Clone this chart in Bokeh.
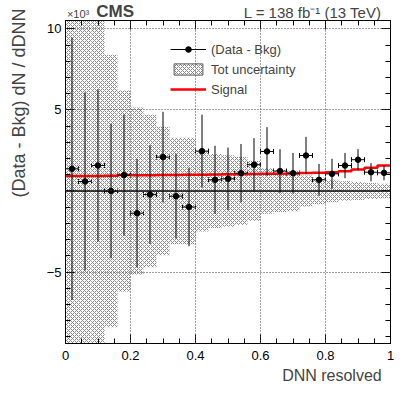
import math
from bokeh.plotting import figure
from bokeh.layouts import column, row
from bokeh.models import (Range1d, LinearAxis, SingleIntervalTicker, CustomJSTickFormatter,
                          ColumnDataSource, Whisker, TeeHead, Label, Legend, LegendItem, Span,
                          CustomLabelingPolicy)
from bokeh.embed import file_html
from bokeh.resources import INLINE

# ---------------- data ----------------
bin_lo = [0.00, 0.04, 0.08, 0.12, 0.16, 0.20, 0.24, 0.28, 0.32, 0.36, 0.40, 0.44, 0.48,
          0.52, 0.56, 0.60, 0.64, 0.68, 0.72, 0.76, 0.80, 0.84, 0.88, 0.92, 0.96]
bin_hi = [0.04, 0.08, 0.12, 0.16, 0.20, 0.24, 0.28, 0.32, 0.36, 0.40, 0.44, 0.48, 0.52,
          0.56, 0.60, 0.64, 0.68, 0.72, 0.76, 0.80, 0.84, 0.88, 0.92, 0.96, 1.00]
bin_center = [0.02, 0.06, 0.10, 0.14, 0.18, 0.22, 0.26, 0.30, 0.34, 0.38, 0.42, 0.46, 0.50,
              0.54, 0.58, 0.62, 0.66, 0.70, 0.74, 0.78, 0.82, 0.86, 0.90, 0.94, 0.98]
# (Data - Bkg) in units of 10^3
data_val = [1.37, 0.59, 1.57, 0.00, 0.98, -1.37, -0.22, 2.09, -0.32, -0.99, 2.46, 0.69, 0.75,
            1.10, 1.62, 2.44, 1.23, 1.10, 2.19, 0.69, 1.06, 1.57, 1.93, 1.16, 1.12]
data_err = [8.10, 5.50, 4.70, 4.15, 3.74, 3.35, 3.05, 2.80, 2.62, 2.42, 2.25, 2.10, 1.93,
            1.80, 1.64, 1.50, 1.35, 1.25, 1.15, 0.98, 0.93, 0.78, 0.65, 0.56, 0.46]
# total uncertainty band (half width)
tot_unc = [11.5, 11.5, 11.5, 8.40, 6.20, 5.15, 4.70, 3.97, 3.28, 3.28, 2.50, 2.28, 2.20,
           2.10, 1.85, 1.40, 1.30, 1.25, 0.95, 0.82, 0.70, 0.60, 0.55, 0.50, 0.45]
# signal
signal = [0.93, 0.93, 0.93, 0.94, 0.98, 0.97, 0.97, 0.98, 0.99, 1.00, 1.00, 1.02, 1.03,
          1.04, 1.05, 1.06, 1.07, 1.08, 1.11, 1.12, 1.16, 1.22, 1.33, 1.43, 1.57]

FONT = "Liberation Sans"
TOTAL_H = 392
LEFT_W = 30
COL_W = 370            # page x 30 .. 400
HEAD_H = 20            # page y 0 .. 20
MAIN_H = 345           # page y 20 .. 365
FOOT_H = TOTAL_H - HEAD_H - MAIN_H

src = ColumnDataSource(dict(
    lo=bin_lo, hi=bin_hi, x=bin_center, v=data_val,
    vlo=[a - b for a, b in zip(data_val, data_err)],
    vhi=[a + b for a, b in zip(data_val, data_err)],
    ulo=[-u for u in tot_unc], uhi=tot_unc,
))


def strip(w, h, x0, y0):
    """Blank text strip whose data coordinates equal page pixels."""
    s = figure(width=w, height=h, x_range=Range1d(x0, x0 + w), y_range=Range1d(y0 + h, y0),
               output_backend="svg", toolbar_location=None, x_axis_type=None,
               y_axis_type=None, title=None,
               min_border_left=0, min_border_right=0, min_border_top=0, min_border_bottom=0)
    s.outline_line_color = None
    s.background_fill_color = "white"
    s.border_fill_color = "white"
    s.grid.visible = False
    return s


# header strip: CMS / lumi / exponent (anchors at the text's vertical centre)
head = strip(COL_W, HEAD_H, LEFT_W, 0)
head.add_layout(Label(x=65, y=11, text="CMS", text_font=FONT, text_font_style="bold",
                      text_font_size="17px", text_align="left", text_baseline="alphabetic"))
head.add_layout(Label(x=390, y=12, text="L = 138 fb\u207b\u00b9 (13 TeV)", text_font=FONT,
                      text_font_size="15px", text_align="right", text_baseline="alphabetic"))
head.add_layout(Label(x=57, y=13, text="\u00d710\u00b3", text_font=FONT,
                      text_font_size="11px", text_align="right", text_baseline="alphabetic"))

# footer strip: x title
foot = strip(COL_W, FOOT_H, LEFT_W, HEAD_H + MAIN_H)
foot.add_layout(Label(x=390, y=374.5, text="DNN resolved", text_font=FONT,
                      text_font_size="16px", text_align="right", text_baseline="alphabetic"))

# left strip: y title
left = strip(LEFT_W, TOTAL_H, 0, 0)
left.add_layout(Label(x=18.5, y=8, text="(Data - Bkg) dN / dDNN", angle=math.pi / 2,
                      text_font=FONT, text_font_size="18px", text_align="right",
                      text_baseline="alphabetic"))

# ---------------- main plot ----------------
p = figure(width=COL_W, height=MAIN_H, x_range=Range1d(0, 1), y_range=Range1d(-9.41, 10.52),
           output_backend="svg", toolbar_location=None, title=None,
           min_border_left=65 - LEFT_W, min_border_right=LEFT_W + COL_W - 390,
           min_border_top=0, min_border_bottom=MAIN_H - 323)
p.background_fill_color = "white"
p.border_fill_color = "white"
p.outline_line_color = "black"
p.outline_line_width = 1

bottom_ax = p.below[0]
left_ax = p.left[0]
xt = SingleIntervalTicker(interval=0.2, num_minor_ticks=4)
yt = SingleIntervalTicker(interval=5, num_minor_ticks=5)
bottom_ax.ticker = xt
left_ax.ticker = yt
p.xgrid[0].ticker = xt
p.ygrid[0].ticker = yt
for g in (p.xgrid[0], p.ygrid[0]):
    g.grid_line_color = "#444444"
    g.grid_line_dash = "1 2"
    g.grid_line_width = 1
    g.level = "overlay"

bottom_ax.formatter = CustomJSTickFormatter(code="return tick.toFixed(1).replace(/\\.0$/, '');")
left_ax.formatter = CustomJSTickFormatter(
    code="if (Math.abs(tick) < 1e-9) return ''; return (tick < 0 ? '\\u2212' : '') + Math.abs(tick).toFixed(0);")

top_ax = LinearAxis(ticker=xt, major_label_text_font_size="0px", major_label_standoff=0,
                    major_label_policy=CustomLabelingPolicy(code="return new Set()"))
right_ax = LinearAxis(ticker=yt, major_label_text_font_size="0px", major_label_standoff=0,
                      major_label_policy=CustomLabelingPolicy(code="return new Set()"))
p.add_layout(top_ax, "above")
p.add_layout(right_ax, "right")

for ax in [bottom_ax, left_ax, top_ax, right_ax]:
    ax.major_tick_in = 9
    ax.major_tick_out = 0
    ax.minor_tick_in = 5
    ax.minor_tick_out = 0
    ax.major_tick_line_color = "black"
    ax.minor_tick_line_color = "black"
    ax.axis_line_color = "black"
    ax.major_label_text_font = FONT
    ax.major_label_text_color = "black"
bottom_ax.major_label_text_font_size = "13px"
left_ax.major_label_text_font_size = "13px"
bottom_ax.major_label_standoff = 7
left_ax.major_label_standoff = 4

# uncertainty band
HATCH = dict(fill_color=None, hatch_pattern="diagonal_cross", hatch_color="#8a8a8a",
             hatch_scale=4, hatch_weight=1)
p.quad(left="lo", right="hi", bottom="ulo", top="uhi", source=src, line_alpha=0, **HATCH)
nan = float("nan")
band_leg = p.quad(left=[nan], right=[nan], bottom=[nan], top=[nan],
                  line_color="#555555", line_width=1, **HATCH)

# zero line
p.add_layout(Span(location=0, dimension="width", line_color="black", line_width=1.5))

# signal step line
p_sig = p.step(x=bin_lo + [bin_hi[-1]], y=signal + [signal[-1]], mode="after",
               line_color="#ff0000", line_width=2.5)

# data points with errors
p.segment(x0="x", y0="vlo", x1="x", y1="vhi", source=src, line_color="black", line_width=1)
hbar = p.segment(x0="lo", y0="v", x1="hi", y1="v", source=src, line_color="black", line_width=1)
p.add_layout(Whisker(base="v", lower="lo", upper="hi", dimension="width", source=src,
                     line_alpha=0,
                     lower_head=TeeHead(size=5, line_color="black", line_width=1),
                     upper_head=TeeHead(size=5, line_color="black", line_width=1)))
pts = p.scatter(x="x", y="v", source=src, size=5.5, marker="circle",
                fill_color="black", line_color="black")

legend = Legend(items=[
    LegendItem(label="(Data - Bkg)", renderers=[hbar, pts]),
    LegendItem(label="Tot uncertainty", renderers=[band_leg]),
    LegendItem(label="Signal", renderers=[p_sig]),
], location=(105, 244), padding=0, margin=0, spacing=0, glyph_width=36, glyph_height=14,
    label_height=20, label_standoff=5, label_text_font=FONT, label_text_font_size="13px",
    border_line_alpha=0, background_fill_alpha=0)
p.add_layout(legend)

layout = row(left, column(head, p, foot, spacing=0), spacing=0)
open("out.html", "w").write(file_html(layout, INLINE))
